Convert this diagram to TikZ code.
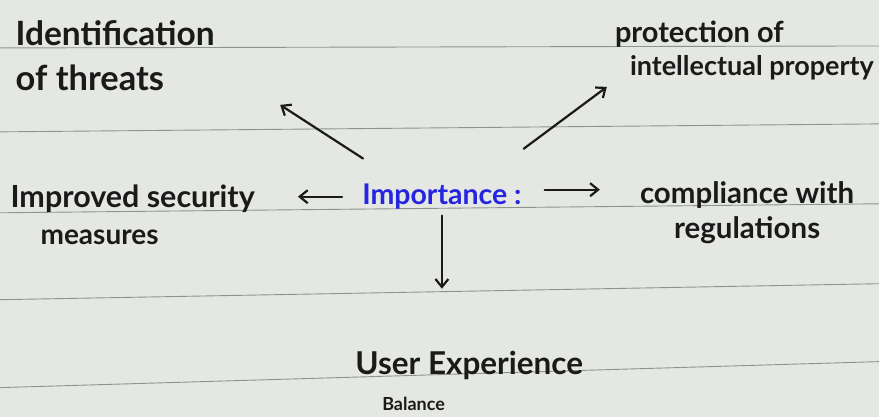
\documentclass[tikz,border=0pt]{standalone}
\usepackage{fontspec}
\setmainfont{Lato}
\usetikzlibrary{arrows.meta}

\definecolor{paper}{HTML}{E4E7E2}
\definecolor{ruling}{HTML}{8E938E}
\definecolor{ink}{HTML}{1A1A1A}
\definecolor{pen}{HTML}{2525E0}

\begin{document}
\begin{tikzpicture}[
    x=1pt, y=-1pt,
    line cap=round,
    line join=round,
    hand/.style={
        text=ink,
        inner sep=0pt,
        anchor=north west
    },
    arr/.style={
        draw=ink,
        line width=2.2pt,
        -{Straight Barb[length=8pt,width=13pt]}
    },
    ruleline/.style={
        draw=ruling,
        line width=0.9pt
    }
]

% -------------------------------------------------
% Notebook page and ruled lines
% -------------------------------------------------

\fill[paper] (0,0) rectangle (879,417);

\draw[ruleline] (0,48) -- (879,46);
\draw[ruleline] (0,132) -- (879,124);
\draw[ruleline] (0,213) -- (879,204);
\draw[ruleline] (0,300) -- (879,284);
\draw[ruleline] (0,388) -- (879,362);

% -------------------------------------------------
% Centre word
% -------------------------------------------------

\node[hand, text=pen, font=\bfseries\fontsize{28.5}{33}\selectfont]
    (imp) at (362,184) {Importance :};

% -------------------------------------------------
% Branches
% -------------------------------------------------

\node[hand, align=left, font=\bfseries\fontsize{33.5}{45}\selectfont]
    (threats) at (15,20) {Identification\\{\fontsize{34.5}{45}\selectfont of threats}};

\node[hand, align=left, font=\bfseries\fontsize{29}{33}\selectfont]
    (prop) at (615,21)
    {protection of\\\hspace*{15pt}{\fontsize{27}{33}\selectfont intellectual property}};

\node[hand, align=left, font=\bfseries\fontsize{30.5}{37}\selectfont]
    (secur) at (10,185)
    {Improved security\\\hspace*{30pt}{\fontsize{28}{37}\selectfont measures}};

\node[hand, align=center, font=\bfseries\fontsize{29.5}{35}\selectfont]
    (comp) at (640,182) {compliance with\\regulations};

\node[hand, align=left, font=\bfseries\fontsize{31.5}{36}\selectfont]
    (user) at (355,351)
    {User Experience\\\hspace*{27pt}{\fontsize{18}{36}\selectfont Balance}};

% -------------------------------------------------
% Arrows out of the centre word
% -------------------------------------------------

\coordinate (tipThreats) at (280,105);
\coordinate (tipProp) at (607,87);

\draw[arr, shorten <=94pt] (imp.south) -- (tipThreats);
\draw[arr, shorten <=102pt] (imp.south) -- (tipProp);

\draw[arr, shorten <=20pt, shorten >=43pt]
    (imp.west) -- (imp.west -| secur.east);
\draw[arr, shorten <=23pt, shorten >=40pt]
    ([yshift=7pt]imp.east) -- ([yshift=7pt]imp.east -| comp.west);
\draw[arr, shorten <=6pt, shorten >=62pt]
    (imp.south) -- (imp.south |- user.north);

\end{tikzpicture}
\end{document}
